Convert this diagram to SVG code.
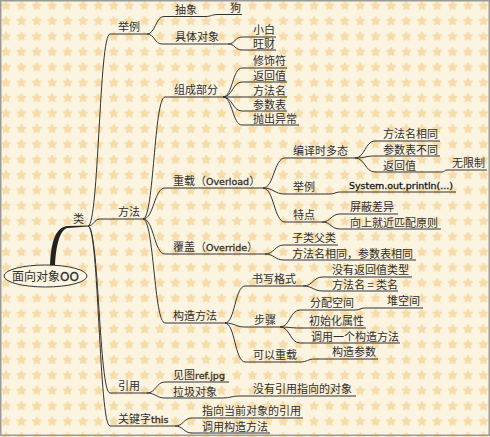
<svg xmlns="http://www.w3.org/2000/svg" width="490" height="437" viewBox="0 0 490 437">
<style>
.t{font-family:"Noto Sans CJK SC","Noto Sans CJK JP",sans-serif;font-size:11px;fill:#2e2e2e}
.l{font-family:"DejaVu Sans","Noto Sans CJK SC",sans-serif;font-size:9.5px;stroke:#2e2e2e;stroke-width:0.3}
.u{stroke:#333;stroke-width:1;fill:none}
.c{stroke:#333;stroke-width:1;fill:none}
</style>
<defs>
<pattern id="stars" patternUnits="userSpaceOnUse" x="-1.7" y="-2" width="15.4" height="15.4">
<polygon points="7.7,3.5 8.88,6.08 11.69,6.4 9.6,8.32 10.17,11.1 7.7,9.7 5.23,11.1 5.8,8.32 3.71,6.4 6.52,6.08" fill="#f7dba8" stroke="#f7dba8" stroke-width="1.6" stroke-linejoin="round"/>
</pattern>
</defs>
<rect x="0" y="0" width="490" height="437" fill="#fbf4e1"/>
<rect x="0" y="0" width="490" height="437" fill="url(#stars)"/>
<rect x="0.75" y="0.75" width="488.5" height="434.5" fill="none" stroke="#9a9a9a" stroke-width="1.5"/>

<g id="connectors">
<path d="M50,266 C51,240 56,227 68,226 L88,225.6 L88,226.6 L68,228 C60,229 56,245 55,266 Z" fill="#222"/>
<path class="c" d="M88,226C99,226 99,34 110,34"/>
<path class="c" d="M88,226C94,226 94,219 100,219"/>
<path class="c" d="M88,226C99,226 99,393 110,393"/>
<path class="c" d="M88,226C99,226 99,426 110,426"/>
<path class="c" d="M147,34C155.5,34 155.5,16.5 164,16.5"/>
<path class="c" d="M205,16.5C211.5,16.5 211.5,14.5 218,14.5"/>
<path class="c" d="M147,34C154.5,34 154.5,44 162,44"/>
<path class="c" d="M228,44C235,44 235,37 242,37"/>
<path class="c" d="M228,44C235,44 235,50 242,50"/>
<path class="c" d="M143,219C154,219 154,97 165,97"/>
<path class="c" d="M223,97C232.5,97 232.5,68 242,68"/>
<path class="c" d="M223,97C232.5,97 232.5,82 242,82"/>
<path class="c" d="M223,97L242,97"/>
<path class="c" d="M223,97C232.5,97 232.5,111 242,111"/>
<path class="c" d="M223,97C232.5,97 232.5,125 242,125"/>
<path class="c" d="M143,219C154,219 154,188 165,188"/>
<path class="c" d="M143,219C154,219 154,254 165,254"/>
<path class="c" d="M143,219C154,219 154,323 165,323"/>
<path class="c" d="M263,188C274,188 274,158 285,158"/>
<path class="c" d="M263,188C274,188 274,194 285,194"/>
<path class="c" d="M263,188C274,188 274,222 285,222"/>
<path class="c" d="M355,158C365,158 365,141 375,141"/>
<path class="c" d="M355,158C365,158 365,156 375,156"/>
<path class="c" d="M355,158C365,158 365,172 375,172"/>
<path class="c" d="M442,172C444.5,172 444.5,170 447,170"/>
<path class="c" d="M330,194C335,194 335,192 340,192"/>
<path class="c" d="M322,222C331,222 331,214 340,214"/>
<path class="c" d="M322,222C331,222 331,229 340,229"/>
<path class="c" d="M265,254C274.5,254 274.5,245 284,245"/>
<path class="c" d="M265,254C274.5,254 274.5,260 284,260"/>
<path class="c" d="M225,323C235,323 235,286 245,286"/>
<path class="c" d="M225,323C235,323 235,327 245,327"/>
<path class="c" d="M225,323C235,323 235,362 245,362"/>
<path class="c" d="M303,286C313,286 313,277 323,277"/>
<path class="c" d="M303,286C313,286 313,291 323,291"/>
<path class="c" d="M280,327C290,327 290,310 300,310"/>
<path class="c" d="M280,327C290,327 290,328 300,328"/>
<path class="c" d="M280,327C290,327 290,343 300,343"/>
<path class="c" d="M355,310C360,310 360,308 365,308"/>
<path class="c" d="M300,362C307.5,362 307.5,359 315,359"/>
<path class="c" d="M147,393C156,393 156,382 165,382"/>
<path class="c" d="M147,393C156,393 156,398 165,398"/>
<path class="c" d="M222,398C231,398 231,396 240,396"/>
<path class="c" d="M175,426C183.5,426 183.5,418 192,418"/>
<path class="c" d="M175,426C183.5,426 183.5,433 192,433"/>
</g>

<g id="root">
<ellipse cx="45.5" cy="276" rx="41.5" ry="11" fill="#fbf4e1" stroke="#333" stroke-width="1"/>
<text class="t" x="12" y="280.5" style="font-size:12px">面向对象<tspan class="l" style="font-size:12px">OO</tspan></text>
</g>
<g id="n-lei"><text class="t" x="73" y="223">类</text></g>
<g id="n-juli"><path class="u" d="M110,34H147"/><text class="t" x="118" y="31">举例</text></g>
<g id="n-chouxiang"><path class="u" d="M164,16.5H205"/><text class="t" x="175" y="13.5">抽象</text></g>
<g id="n-gou"><path class="u" d="M218,14.5H242"/><text class="t" x="230" y="12">狗</text></g>
<g id="n-juti"><path class="u" d="M162,44H228"/><text class="t" x="175" y="41">具体对象</text></g>
<g id="n-xiaobai"><path class="u" d="M242,37H276"/><text class="t" x="253" y="34">小白</text></g>
<g id="n-wangcai"><path class="u" d="M242,50H276"/><text class="t" x="253" y="47.5">旺财</text></g>
<g id="n-fangfa"><path class="u" d="M100,219H143"/><text class="t" x="118" y="216">方法</text></g>
<g id="n-zucheng"><path class="u" d="M165,97H223"/><text class="t" x="174" y="94">组成部分</text></g>
<g id="n-xiushifu"><path class="u" d="M242,68H287"/><text class="t" x="253" y="65">修饰符</text></g>
<g id="n-fanhuizhi"><path class="u" d="M242,82H287"/><text class="t" x="253" y="79.5">返回值</text></g>
<g id="n-fangfaming"><path class="u" d="M242,97H287"/><text class="t" x="253" y="94.5">方法名</text></g>
<g id="n-canshubiao"><path class="u" d="M242,111H287"/><text class="t" x="253" y="108.5">参数表</text></g>
<g id="n-paochu"><path class="u" d="M242,125H299"/><text class="t" x="253" y="122.5">抛出异常</text></g>
<g id="n-chongzai"><path class="u" d="M165,188H263"/><text class="t" x="173" y="185">重载（<tspan class="l">Overload</tspan>）</text></g>
<g id="n-bianyi"><path class="u" d="M285,158H355"/><text class="t" x="293" y="155">编译时多态</text></g>
<g id="n-mingxiangtong"><path class="u" d="M375,141H440"/><text class="t" x="383" y="138">方法名相同</text></g>
<g id="n-canshubutong"><path class="u" d="M375,156H440"/><text class="t" x="383" y="153.5">参数表不同</text></g>
<g id="n-fanhuizhi2"><path class="u" d="M375,172H442"/><text class="t" x="383" y="169.5">返回值</text></g>
<g id="n-wuxianzhi"><path class="u" d="M447,170H487"/><text class="t" x="452" y="167">无限制</text></g>
<g id="n-juli2"><path class="u" d="M285,194H330"/><text class="t" x="293" y="191">举例</text></g>
<g id="n-system"><path class="u" d="M340,192H456"/><text class="l" x="349" y="189" textLength="104">System.out.println(...)</text></g>
<g id="n-tedian"><path class="u" d="M285,222H322"/><text class="t" x="293" y="219">特点</text></g>
<g id="n-pingbi"><path class="u" d="M340,214H398"/><text class="t" x="350" y="211">屏蔽差异</text></g>
<g id="n-xiangshang"><path class="u" d="M340,229H441"/><text class="t" x="350" y="226.5">向上就近匹配原则</text></g>
<g id="n-fugai"><path class="u" d="M165,254H265"/><text class="t" x="173" y="251">覆盖（<tspan class="l">Override</tspan>）</text></g>
<g id="n-zilei"><path class="u" d="M284,245H338"/><text class="t" x="292" y="242">子类父类</text></g>
<g id="n-fugaixiangtong"><path class="u" d="M284,260H416"/><text class="t" x="292" y="257.5">方法名相同，参数表相同</text></g>
<g id="n-gouzao"><path class="u" d="M165,323H225"/><text class="t" x="173" y="320">构造方法</text></g>
<g id="n-shuxie"><path class="u" d="M245,286H303"/><text class="t" x="252" y="283">书写格式</text></g>
<g id="n-meiyoufanhui"><path class="u" d="M323,277H412"/><text class="t" x="332" y="274">没有返回值类型</text></g>
<g id="n-leiming"><path class="u" d="M323,291H398"/><text class="t" x="332" y="288.5">方法名 = 类名</text></g>
<g id="n-buzhou"><path class="u" d="M245,327H280"/><text class="t" x="254" y="324">步骤</text></g>
<g id="n-fenpei"><path class="u" d="M300,310H355"/><text class="t" x="310" y="307">分配空间</text></g>
<g id="n-duikongjian"><path class="u" d="M365,308H423"/><text class="t" x="387" y="305">堆空间</text></g>
<g id="n-chushihua"><path class="u" d="M300,328H366"/><text class="t" x="309" y="325">初始化属性</text></g>
<g id="n-diaoyong"><path class="u" d="M300,343H400"/><text class="t" x="311" y="340.5">调用一个构造方法</text></g>
<g id="n-keyi"><path class="u" d="M245,362H300"/><text class="t" x="253" y="359">可以重载</text></g>
<g id="n-gouzaocanshu"><path class="u" d="M315,359H378"/><text class="t" x="332" y="356">构造参数</text></g>
<g id="n-yinyong"><path class="u" d="M110,393H147"/><text class="t" x="118" y="390">引用</text></g>
<g id="n-jiantu"><path class="u" d="M165,382H229"/><text class="t" x="173" y="379">见图<tspan class="l">ref.jpg</tspan></text></g>
<g id="n-laji"><path class="u" d="M165,398H222"/><text class="t" x="173" y="395.5">拉圾对象</text></g>
<g id="n-meiyouyinyong"><path class="u" d="M240,396H356"/><text class="t" x="253" y="393">没有引用指向的对象</text></g>
<g id="n-this"><path class="u" d="M110,426H175"/><text class="t" x="118" y="423">关键字<tspan class="l">this</tspan></text></g>
<g id="n-zhixiang"><path class="u" d="M192,418H303"/><text class="t" x="202" y="415">指向当前对象的引用</text></g>
<g id="n-diaoyonggouzao"><path class="u" d="M192,433H270"/><text class="t" x="202" y="430.5">调用构造方法</text></g>
</svg>
